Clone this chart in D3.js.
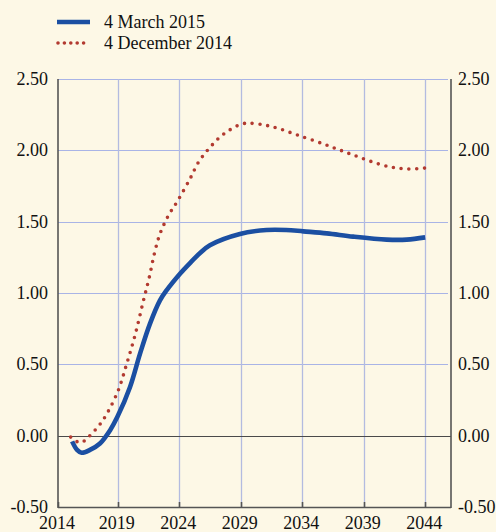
<!DOCTYPE html>
<html><head><meta charset="utf-8">
<script src="https://cdn.jsdelivr.net/npm/d3@7"></script>
<style>
html,body{margin:0;padding:0;background:#fdf8e6;}
svg{display:block;}
</style></head>
<body>
<svg id="chart" width="496" height="532" font-family="'Liberation Serif', 'DejaVu Serif', serif"></svg>
<script>
const seriesNames = ["4 March 2015", "4 December 2014"];
const marchYears = [2015.3, 2015.7, 2016.07, 2016.75, 2017.56, 2018.4, 2018.97, 2020.0, 2020.82, 2021.63, 2022.44, 2022.99, 2024.07, 2024.88, 2025.7, 2026.5, 2028.94, 2031.1, 2032.7, 2034.1, 2036.0, 2038.15, 2040.87, 2042.5, 2044.0];
const marchValues = [-0.04, -0.10, -0.12, -0.10, -0.055, 0.04, 0.13, 0.34, 0.575, 0.785, 0.948, 1.02, 1.135, 1.21, 1.28, 1.335, 1.414, 1.442, 1.442, 1.432, 1.418, 1.395, 1.374, 1.374, 1.39];
const decYears = [2015.18, 2015.94, 2016.43, 2016.83, 2017.5, 2018.1, 2019.05, 2019.74, 2020.41, 2021.1, 2021.57, 2021.98, 2022.44, 2023.12, 2023.8, 2024.88, 2025.56, 2026.5, 2027.6, 2029.03, 2029.7, 2030.9, 2032.0, 2033.6, 2035.72, 2037.22, 2038.7, 2040.27, 2041.41, 2042.63, 2044.0];
const decValues = [-0.01, -0.05, -0.027, 0.008, 0.073, 0.15, 0.318, 0.505, 0.703, 0.948, 1.11, 1.274, 1.414, 1.542, 1.635, 1.80, 1.915, 2.02, 2.113, 2.183, 2.19, 2.178, 2.155, 2.108, 2.045, 1.997, 1.95, 1.903, 1.88, 1.869, 1.876];
const xTicks = [2014, 2019, 2024, 2029, 2034, 2039, 2044];
const yTicks = [-0.5, 0, 0.5, 1.0, 1.5, 2.0, 2.5];

const svg = d3.select("#chart");
const L = 58, R = 451, T = 79, B = 507;
const FS = 18;
const x = d3.scaleLinear().domain([2014.15, 2046.1]).range([L, R]);
const y = d3.scaleLinear().domain([-0.5, 2.5]).range([B, T]);
const xPos = v => v === 2014 ? L : x(v);

// grid
const grid = svg.append("g");
yTicks.filter(v => v !== -0.5 && v !== 0).forEach(v => {
  grid.append("line").attr("x1", L).attr("x2", R - 3).attr("y1", Math.round(y(v)) + 0.5).attr("y2", Math.round(y(v)) + 0.5)
    .attr("stroke", "#a9b4e6").attr("stroke-width", 1.2);
});
xTicks.filter(v => v !== 2014).forEach(v => {
  grid.append("line").attr("x1", Math.round(xPos(v)) + 0.5).attr("x2", Math.round(xPos(v)) + 0.5).attr("y1", T).attr("y2", B)
    .attr("stroke", "#b3bbe0").attr("stroke-width", 1.3);
});
// zero line
svg.append("line").attr("x1", L).attr("x2", R).attr("y1", Math.round(y(0)) + 0.5).attr("y2", Math.round(y(0)) + 0.5)
  .attr("stroke", "#4a4a4a").attr("stroke-width", 1.2);

// axes
const axisColor = "#555";
svg.append("line").attr("x1", L).attr("x2", L).attr("y1", T).attr("y2", B + 1).attr("stroke", axisColor).attr("stroke-width", 1.6);
svg.append("line").attr("x1", R).attr("x2", R).attr("y1", T).attr("y2", B + 1).attr("stroke", axisColor).attr("stroke-width", 1.6);
svg.append("line").attr("x1", L).attr("x2", R).attr("y1", B + 0.5).attr("y2", B + 0.5).attr("stroke", axisColor).attr("stroke-width", 1.6);
xTicks.forEach(v => {
  svg.append("line").attr("x1", Math.round(xPos(v)) + 0.5).attr("x2", Math.round(xPos(v)) + 0.5).attr("y1", B - 5).attr("y2", B)
    .attr("stroke", axisColor).attr("stroke-width", 1.6);
  svg.append("text").attr("x", xPos(v) - 1).attr("y", 529).attr("text-anchor", "middle").attr("font-size", FS).attr("fill", "#111").text(v);
});
yTicks.forEach(v => {
  const fmt = d3.format(".2f")(v).replace("\u2212", "-");
  svg.append("text").attr("x", 48).attr("y", y(v) + 6).attr("text-anchor", "end").attr("font-size", FS).attr("fill", "#111").text(fmt);
  svg.append("text").attr("x", 458).attr("y", y(v) + 6).attr("text-anchor", "start").attr("font-size", FS).attr("fill", "#111").text(fmt);
});

// lines
const line = d3.line().x(d => x(d[0])).y(d => y(d[1])).curve(d3.curveCatmullRom.alpha(0.5));
const dec = decYears.map((v, i) => [v, decValues[i]]);
const mar = marchYears.map((v, i) => [v, marchValues[i]]);
svg.append("path").attr("d", line(dec)).attr("fill", "none").attr("stroke", "#b23a30")
  .attr("stroke-width", 3.6).attr("stroke-linecap", "round").attr("stroke-dasharray", "0 7.8");
svg.append("path").attr("d", line(mar)).attr("fill", "none").attr("stroke", "#1b4fa2")
  .attr("stroke-width", 4.6).attr("stroke-linecap", "butt");

// legend
svg.append("line").attr("x1", 57).attr("x2", 90).attr("y1", 22).attr("y2", 22).attr("stroke", "#1b4fa2").attr("stroke-width", 4.6);
svg.append("text").attr("x", 104).attr("y", 27.5).attr("font-size", FS).attr("fill", "#111").text(seriesNames[0]);
svg.append("line").attr("x1", 58).attr("x2", 90).attr("y1", 43).attr("y2", 43).attr("stroke", "#b23a30")
  .attr("stroke-width", 3.6).attr("stroke-linecap", "round").attr("stroke-dasharray", "0 6.4");
svg.append("text").attr("x", 104).attr("y", 49).attr("font-size", FS).attr("fill", "#111").text(seriesNames[1]);
</script>
</body></html>
